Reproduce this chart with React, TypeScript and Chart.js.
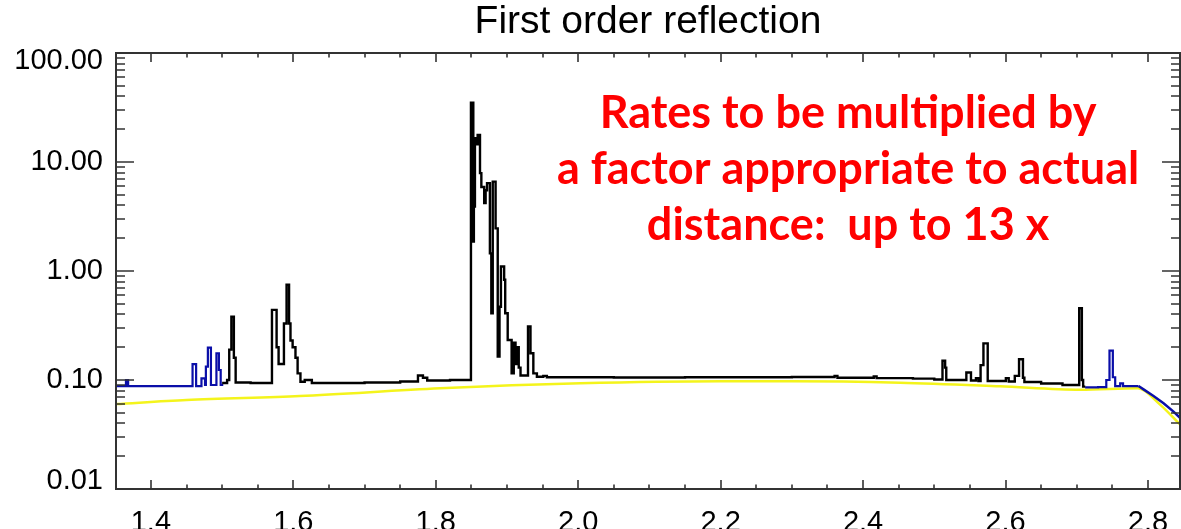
import { useEffect, useRef } from "react";
import { Chart, registerables } from "chart.js";

Chart.register(...registerables);

const titleText = "First order reflection";
const noteLines = [
  "Rates to be multiplied by",
  "a factor appropriate to actual",
  "distance:  up to 13 x",
];

// Axis ranges and labelled ticks
const xMin = 1.351;
const xMax = 2.845;
const yMin = 0.01;
const yMax = 100;
const xTickValues = [1.4, 1.6, 1.8, 2.0, 2.2, 2.4, 2.6, 2.8];
const yTickValues = [0.01, 0.1, 1, 10, 100];
const yTickLabels = ["0.01", "0.10", "1.00", "10.00", "100.00"];

// Short-wavelength end (blue), histogram bins: left edge / rate
const blueLowX = [1.3514, 1.365, 1.368, 1.4585, 1.4635, 1.471, 1.476, 1.4772, 1.48, 1.4843, 1.492, 1.4955, 1.498, 1.5016];
const blueLowY = [0.088, 0.1, 0.088, 0.14, 0.088, 0.1035, 0.09, 0.1325, 0.198, 0.09, 0.176, 0.1235, 0.09, 0.09];

// Main range (black), histogram bins: left edge / rate
const blackX = [
  1.5, 1.507, 1.51, 1.513, 1.5165, 1.519, 1.54, 1.57, 1.5765, 1.5793, 1.5868, 1.5905, 1.594, 1.596, 1.599,
  1.603, 1.606, 1.61, 1.616, 1.626, 1.7, 1.75, 1.775, 1.782, 1.788, 1.82,
  1.8494, 1.8527, 1.8535, 1.855, 1.8565, 1.8588, 1.8621, 1.864, 1.868, 1.87, 1.872, 1.876, 1.878, 1.88,
  1.884, 1.887, 1.8895, 1.8915, 1.896, 1.8975, 1.901, 1.9065, 1.9095, 1.912, 1.914, 1.9165, 1.919,
  1.9295, 1.933, 1.937, 1.942, 1.951, 1.956, 2.05, 2.15, 2.3, 2.36, 2.364, 2.415, 2.419, 2.47, 2.5,
  2.5115, 2.5152, 2.5168, 2.545, 2.5515, 2.5585, 2.562, 2.565, 2.569, 2.575, 2.6005, 2.6045, 2.613,
  2.619, 2.6245, 2.6265, 2.65, 2.68, 2.7035, 2.7072, 2.709, 2.712,
];
const blackY = [
  0.094, 0.1, 0.19, 0.38, 0.16, 0.095, 0.094, 0.44, 0.2, 0.14, 0.33, 0.75, 0.33, 0.23, 0.2,
  0.16, 0.115, 0.0965, 0.1, 0.094, 0.095, 0.097, 0.11, 0.105, 0.099, 0.1,
  35.0, 1.86, 3.9, 16.5, 14.5, 17.7, 7.9, 5.9, 4.2, 5.5, 6.4, 1.45, 0.41, 6.6,
  2.46, 0.164, 0.47, 1.1, 0.83, 0.41, 0.233, 0.115, 0.22, 0.14, 0.2, 0.13, 0.11,
  0.31, 0.176, 0.115, 0.107, 0.109, 0.106, 0.1055, 0.106, 0.1065, 0.109, 0.105, 0.108, 0.104, 0.103, 0.101,
  0.15, 0.13, 0.1, 0.117, 0.099, 0.104, 0.098, 0.137, 0.217, 0.098, 0.104, 0.097, 0.109,
  0.155, 0.105, 0.096, 0.093, 0.09, 0.455, 0.1, 0.087, 0.087,
];

// Long-wavelength end (blue): binned part, then the roll-off
const blueHighX = [2.7118, 2.73, 2.7415, 2.746, 2.7507, 2.754, 2.761, 2.765, 2.7867];
const blueHighY = [0.0857, 0.086, 0.1, 0.186, 0.106, 0.088, 0.093, 0.088, 0.088];
const blueTailX = [2.7867, 2.7938, 2.8078, 2.8219, 2.8359, 2.845];
const blueTailY = [0.088, 0.082, 0.0713, 0.0611, 0.0513, 0.045];

// Continuum level (yellow)
const yellowX = [1.351, 1.45, 1.609, 1.806, 2.003, 2.2, 2.3, 2.452, 2.592, 2.705, 2.786, 2.817, 2.845];
const yellowY = [0.0602, 0.0655, 0.0713, 0.0839, 0.0933, 0.0975, 0.0975, 0.0945, 0.0876, 0.0815, 0.0839, 0.0595, 0.0391];

const toPoints = (xs: number[], ys: number[]) => xs.map((x, i) => ({ x, y: ys[i] }));

const axisFont = '"Liberation Sans", Arial, Helvetica, sans-serif';

// Box around the plot with inward major/minor ticks on all four sides,
// left-hand tick labels and the red annotation.
const framePlugin = {
  id: "frameAndNotes",
  afterDatasetsDraw(chart: any) {
    const { ctx, chartArea: a, scales } = chart;
    const xs = scales.x;
    const ys = scales.y;
    ctx.save();
    ctx.strokeStyle = "#333";
    ctx.lineWidth = 2;
    ctx.strokeRect(a.left, a.top, a.right - a.left, a.bottom - a.top);

    ctx.lineWidth = 1.6;
    ctx.beginPath();
    // x ticks every 0.05, major every 0.2
    for (let k = 28; k <= 56; k++) {
      const v = k * 0.05;
      if (v < xMin || v > xMax) continue;
      const px = Math.round(xs.getPixelForValue(v));
      const len = k % 4 === 0 ? 9 : 4.5;
      ctx.moveTo(px, a.bottom);
      ctx.lineTo(px, a.bottom - len);
      ctx.moveTo(px, a.top);
      ctx.lineTo(px, a.top + len);
    }
    // y ticks at 1..9 x 10^n
    for (let d = -2; d <= 2; d++) {
      for (let m = 1; m <= 9; m++) {
        const v = m * Math.pow(10, d);
        if (v < yMin || v > yMax) continue;
        const py = Math.round(ys.getPixelForValue(v));
        const len = m === 1 ? 18 : 9;
        ctx.moveTo(a.left, py);
        ctx.lineTo(a.left + len, py);
        ctx.moveTo(a.right, py);
        ctx.lineTo(a.right - len, py);
      }
    }
    ctx.stroke();
    ctx.restore();
  },
  afterDraw(chart: any) {
    const { ctx, chartArea: a, scales } = chart;
    const ys = scales.y;
    ctx.save();
    ctx.fillStyle = "#000";
    ctx.font = `29px ${axisFont}`;
    ctx.textAlign = "right";
    ctx.textBaseline = "middle";
    yTickValues.forEach((v, i) => {
      const py = ys.getPixelForValue(v);
      const y = Math.min(Math.max(py, a.top + 8), a.bottom - 8);
      ctx.fillText(yTickLabels[i], a.left - 13, y);
    });

    const w = a.right - a.left;
    const h = a.bottom - a.top;
    ctx.fillStyle = "#ff0000";
    ctx.font = 'bold 45px Lato, "Open Sans", sans-serif';
    ctx.textAlign = "center";
    ctx.textBaseline = "alphabetic";
    const cx = a.left + w * 0.688;
    noteLines.forEach((line, i) => {
      ctx.fillText(line, cx, a.top + h * (0.172 + i * 0.1285));
    });
    ctx.restore();
  },
};

export default function App() {
  const canvasRef = useRef<HTMLCanvasElement | null>(null);

  useEffect(() => {
    const canvas = canvasRef.current;
    if (!canvas) return;
    const stepLine = (data: any, color: string, width: number) => ({
      data,
      borderColor: color,
      borderWidth: width,
      pointRadius: 0,
      stepped: "before" as const,
      fill: false,
    });
    const chart = new Chart(canvas, {
      type: "line",
      data: {
        datasets: [
          stepLine(toPoints(blackX, blackY), "#000000", 2.4),
          stepLine(toPoints(blueLowX, blueLowY), "#0a0ea8", 2.2),
          stepLine(toPoints(blueHighX, blueHighY), "#0a0ea8", 2.2),
          {
            data: toPoints(blueTailX, blueTailY),
            borderColor: "#0a0ea8",
            borderWidth: 2.5,
            pointRadius: 0,
            fill: false,
          },
          {
            data: toPoints(yellowX, yellowY),
            borderColor: "#f4f41c",
            borderWidth: 2.5,
            pointRadius: 0,
            fill: false,
            cubicInterpolationMode: "monotone" as const,
          },
        ],
      },
      options: {
        responsive: false,
        animation: false,
        devicePixelRatio: 1,
        layout: { padding: { left: 0, right: 1, top: 0, bottom: 0 } },
        plugins: {
          legend: { display: false },
          tooltip: { enabled: false },
          title: {
            display: true,
            fullSize: false,
            text: titleText,
            color: "#000",
            font: { family: axisFont, size: 39, weight: "normal", lineHeight: 1 },
            padding: { top: 3, bottom: 11 },
          },
        },
        scales: {
          x: {
            type: "linear",
            position: "bottom",
            min: xMin,
            max: xMax,
            grid: { display: false },
            border: { display: false },
            afterBuildTicks: (axis: any) => {
              axis.ticks = xTickValues.map((value) => ({ value }));
            },
            afterFit: (axis: any) => {
              axis.height = 40;
            },
            ticks: {
              autoSkip: false,
              maxRotation: 0,
              padding: 9,
              color: "#000",
              font: { family: axisFont, size: 29 },
              callback: (v: any) => Number(v).toFixed(1),
            },
          },
          y: {
            type: "logarithmic",
            min: yMin,
            max: yMax,
            grid: { display: false },
            border: { display: false },
            afterBuildTicks: (axis: any) => {
              axis.ticks = yTickValues.map((value) => ({ value }));
            },
            afterFit: (axis: any) => {
              axis.width = 116;
            },
            ticks: { display: false },
          },
        },
      },
      plugins: [framePlugin],
    });
    return () => chart.destroy();
  }, []);

  return (
    <div
      style={{
        position: "fixed",
        left: 0,
        top: 0,
        width: 1181,
        height: 529,
        background: "#fff",
        overflow: "hidden",
      }}
    >
      <canvas ref={canvasRef} width={1181} height={529} style={{ display: "block" }} />
    </div>
  );
}
